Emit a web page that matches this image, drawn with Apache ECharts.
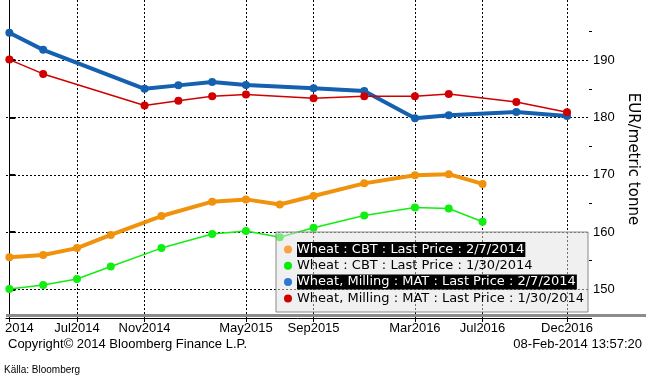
<!DOCTYPE html>
<html>
<head>
<meta charset="utf-8">
<script src="https://cdn.jsdelivr.net/npm/echarts@6/dist/echarts.min.js"></script>
<style>
html,body{margin:0;padding:0;background:#fff;}
#chart{width:646px;height:380px;}
</style>
</head>
<body>
<div id="chart"></div>
<script>
// ---- data ----
const cbtContracts = ['Mar2014','May2014','Jul2014','Sep2014','Dec2014','Mar2015','May2015','Jul2015','Sep2015','Dec2015','Mar2016','May2016','Jul2016'];
const cbtFeb7  = [155.6,156.0,157.2,159.5,162.8,165.3,165.7,164.8,166.3,168.5,169.9,170.1,168.4];
const cbtJan30 = [150.05,150.75,151.8,154.0,157.2,159.65,160.2,159.1,160.75,162.9,164.3,164.1,161.8];
const matContracts = ['Mar2014','May2014','Nov2014','Jan2015','Mar2015','May2015','Sep2015','Dec2015','Mar2016','May2016','Sep2016','Dec2016'];
const matFeb7  = [194.8,191.8,185.0,185.6,186.2,185.65,185.1,184.6,179.85,180.4,180.95,180.25];
const matJan30 = [190.1,187.6,182.1,182.9,183.7,184.0,183.35,183.7,183.7,184.1,182.7,180.9];
const xTickMonths = ['Mar2014','Jul2014','Nov2014','May2015','Sep2015','Mar2016','Jul2016','Dec2016'];
const xTickLabels = ['2014','Jul2014','Nov2014','May2015','Sep2015','Mar2016','Jul2016','Dec2016'];
const yTicks = [150,160,170,180,190];
const yMinorTicks = [145,155,165,175,185,195];
const seriesNames = [
  'Wheat : CBT : Last Price : 2/7/2014',
  'Wheat : CBT : Last Price : 1/30/2014',
  'Wheat, Milling : MAT : Last Price : 2/7/2014',
  'Wheat, Milling : MAT : Last Price : 1/30/2014'
];

// ---- helpers ----
const MON = {Jan:1,Feb:2,Mar:3,Apr:4,May:5,Jun:6,Jul:7,Aug:8,Sep:9,Oct:10,Nov:11,Dec:12};
function monthIdx(s){ return (parseInt(s.slice(3),10)-2014)*12 + MON[s.slice(0,3)] - 3; }
function pairs(cs, vs){ return cs.map((c,i)=>[monthIdx(c), vs[i]]); }
const xTickIdx = xTickMonths.map(monthIdx);
const labelMap = {}; xTickIdx.forEach((m,i)=>labelMap[m]=xTickLabels[i]);

const FONT = 'Liberation Sans, Arial, sans-serif';
const chart = echarts.init(document.getElementById('chart'), null, {renderer:'canvas'});

function mkSeries(name, data, color, lw){
  return {
    name, type:'line', data, symbol:'circle', symbolSize:8, showSymbol:true,
    lineStyle:{color, width:lw}, itemStyle:{color}, emphasis:{disabled:true},
    z: 2
  };
}

const option = {
  animation:false,
  backgroundColor:'#fff',
  grid:{left:6, right:57, top:0, bottom:62, containLabel:false, outerBoundsMode:'none'},
  xAxis:{
    type:'value', min:-0.2, max:34.3,
    axisLine:{show:true, lineStyle:{color:'#000', width:1}},
    axisTick:{show:true, customValues:xTickIdx, length:4, lineStyle:{color:'#000'}},
    axisLabel:{
      customValues:xTickIdx, margin:4, color:'#000', fontFamily:FONT, fontSize:13,
      formatter:(v)=> v===xTickIdx[0] ? '{l|'+labelMap[v]+'}' : (labelMap[v]||''),
      rich:{l:{padding:[0,0,0,20], color:'#000', fontFamily:FONT, fontSize:13}}
    },
    splitLine:{show:true, lineStyle:{color:'#000', type:[2,2], width:1}}
  },
  yAxis:[{
    type:'value', position:'right', min:145, max:200.5,
    axisLine:{show:true, lineStyle:{color:'#000', width:1}},
    axisTick:{show:true, customValues:yTicks, length:6, lineStyle:{color:'#000', width:2}},
    axisLabel:{customValues:yTicks, margin:4, color:'#000', fontFamily:FONT, fontSize:13},
    splitLine:{show:true, lineStyle:{color:'#000', type:[2,2], width:1}},
    name:'EUR/metric tonne', nameLocation:'middle', nameRotate:-90, nameGap:35,
    nameTextStyle:{color:'#000', fontFamily:'DejaVu Sans, sans-serif', fontSize:15}
  },{
    type:'value', position:'right', min:145, max:200.5,
    axisLine:{show:false},
    axisTick:{show:true, customValues:yMinorTicks, length:3, lineStyle:{color:'#000'}},
    axisLabel:{show:false}, splitLine:{show:false}
  }],
  legend:{
    orient:'vertical', left:284, top:242, padding:0, itemGap:1.3,
    itemWidth:8, itemHeight:8, icon:'circle',
    data:[
      {name:seriesNames[0], itemStyle:{color:'#F8A440'}},
      {name:seriesNames[1], itemStyle:{color:'#00EE00'}},
      {name:seriesNames[2], itemStyle:{color:'#2A7AD5'}},
      {name:seriesNames[3], itemStyle:{color:'#CC0000'}}
    ],
    formatter:(n)=> (n===seriesNames[0]||n===seriesNames[2]) ? '{hi|'+n+'}' : '{lo|'+n+'}',
    textStyle:{
      fontFamily:'DejaVu Sans, sans-serif', fontSize:13, color:'#000',
      rich:{
        hi:{backgroundColor:'#000', color:'#fff', fontFamily:'DejaVu Sans, sans-serif', fontSize:13, lineHeight:14, padding:[1,1,1,0]},
        lo:{color:'#000', fontFamily:'DejaVu Sans, sans-serif', fontSize:13, lineHeight:14, padding:[1,1,1,0]}
      }
    },
    selectedMode:false, z:6
  },
  graphic:[
    {type:'rect', z:5, shape:{x:276, y:232, width:312, height:80},
     style:{fill:'rgba(225,225,225,0.5)', stroke:'#8a8a8a', lineWidth:1}},
    {type:'rect', z:5, shape:{x:6, y:314, width:640, height:3}, style:{fill:'#8c8c8c'}},
    {type:'text', left:8, top:338, style:{text:'Copyright\u00A9 2014 Bloomberg Finance L.P.', fill:'#000', font:'13px '+FONT}},
    {type:'text', right:4, top:338, style:{text:'08-Feb-2014 13:57:20', fill:'#000', font:'13px '+FONT}},
    {type:'text', left:4, top:365, style:{text:'K\u00E4lla: Bloomberg', fill:'#000', font:'10px "Liberation Sans Narrow", "Liberation Sans", Arial, sans-serif'}}
  ],
  series:[
    mkSeries(seriesNames[0], pairs(cbtContracts, cbtFeb7), '#F0920C', 4),
    mkSeries(seriesNames[1], pairs(cbtContracts, cbtJan30), '#11EE11', 1.5),
    mkSeries(seriesNames[2], pairs(matContracts, matFeb7), '#1660B0', 4),
    mkSeries(seriesNames[3], pairs(matContracts, matJan30), '#D00000', 1.5)
  ]
};
chart.setOption(option);
</script>
</body>
</html>
